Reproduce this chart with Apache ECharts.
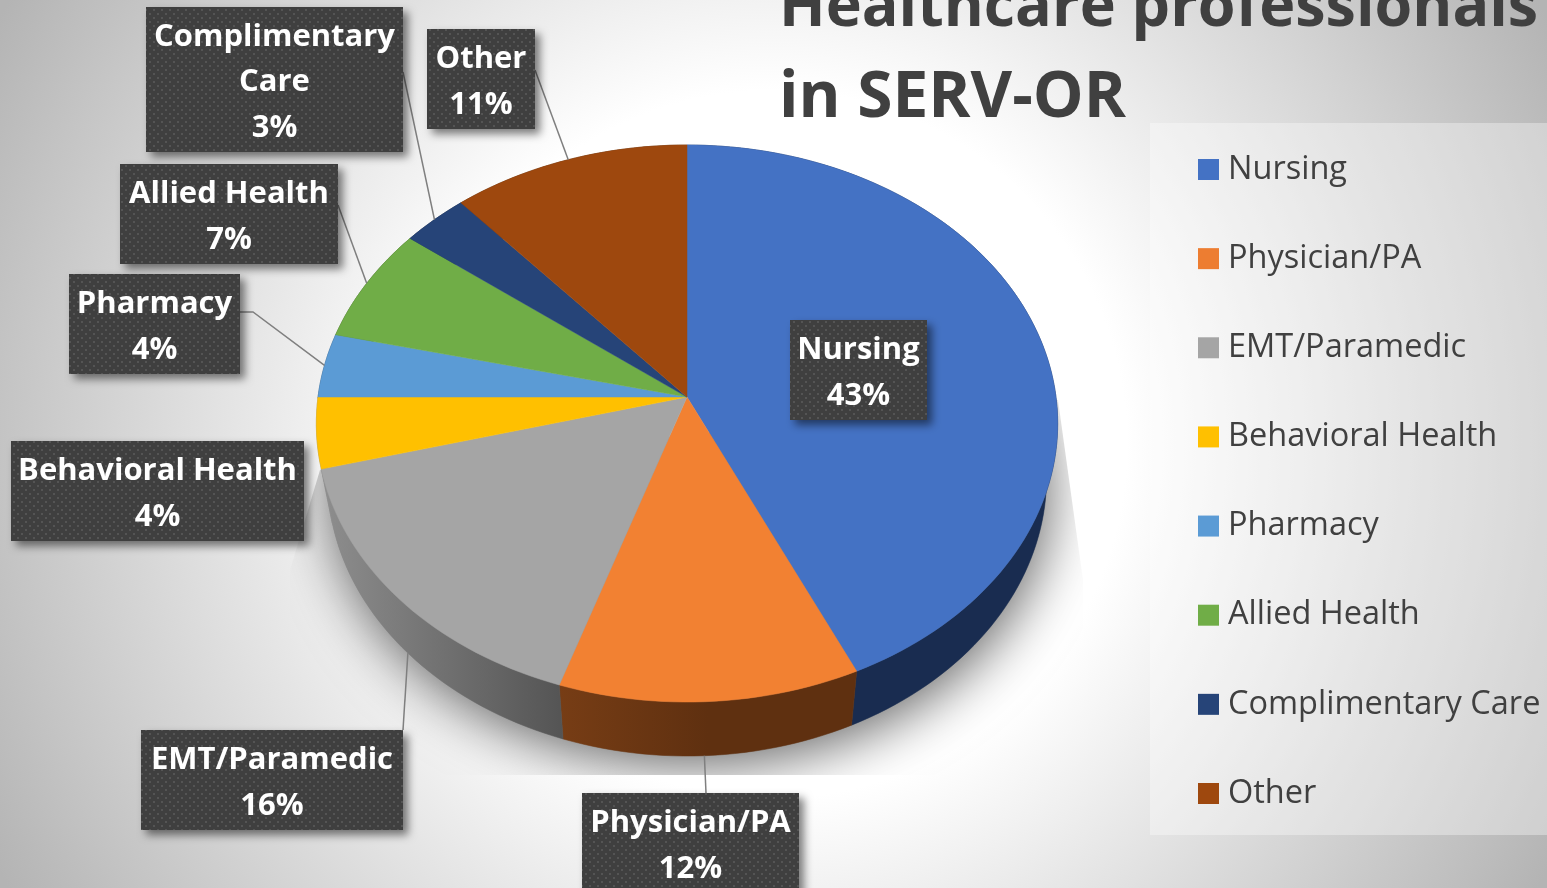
<!DOCTYPE html>
<html>
<head>
<meta charset="utf-8">
<style>
html,body{margin:0;padding:0;width:100%;height:100%;overflow:hidden;background:#fff;}
#main{width:1547px;height:888px;}
</style>
<script src="https://cdn.jsdelivr.net/npm/echarts@6/dist/echarts.min.js"></script>
</head>
<body>
<div id="main"></div>
<script>
/*数据*/
var categories = ["Nursing","Physician/PA","EMT/Paramedic","Behavioral Health","Pharmacy","Allied Health","Complimentary Care","Other"];
var labelNames = ["Nursing","Physician/PA","EMT/Paramedic","Behavioral Health","Pharmacy","Allied Health","Complimentary\nCare","Other"];
var shares = [43.1,12,15.8,4.1,3.7,6.7,3.2,11.4];
var titleLines = ["Healthcare professionals","in SERV-OR"];

/*颜色*/
var legendColors = ["#4472c4","#ed7d31","#a5a5a5","#ffc000","#5b9bd5","#70ad47","#264478","#9e480e"];
var topColors = ["#4472c4","#f28132","#a5a5a5","#ffc000","#5b9bd5","#70ad47","#264478","#9e480e"];
var wallColors = [
    "#192c50",
    {type:"linear",x:0,y:0,x2:1,y2:0,colorStops:[{offset:0,color:"#773d15"},{offset:0.5,color:"#5f3010"},{offset:1,color:"#5f3010"}]},
    {type:"linear",x:0,y:0,x2:1,y2:0,colorStops:[{offset:0,color:"#8e8e8e"},{offset:1,color:"#545454"}]},
    "#8e8e8e","#2e4e6b","#385723","#132239","#4f2407"
];

/*标签框 [x0,y0,x1,y1], 引线起点在框上*/
var labelBoxes = [[790,320,927,420],[582,793,799,893],[141,730,403,830],[11,441,304,541],[69,274,240,374],[120,164,338,264],[146,7,403,152],[427,29,535,129]];
var leaderStarts = [null,[706,793],[403,730],null,[240,312],[338,205],[403,72],[535,70]];
var leaderElbows = [null,null,null,null,[253,312],null,null,null];
var leaderOnWall = [false,true,true,false,false,false,false,false];
var leaderShift = [0,0.002,0,0,0,0,0,0];

/*透视圆盘*/
var cx = 687, cy = 397, rimA = 369, rimB = 276, tilt = 0.0952, depth = 54, lowerScale = 0.97;

function rim(frac, lower) {
    var t = frac * Math.PI * 2;
    var u = Math.sin(t), v = -Math.cos(t);
    var w = 1 - tilt * v;
    var x = rimA * u / w, y = rimB * v / w;
    if (lower) {
        x *= lowerScale;
        y += depth;
    }
    return [cx + x, cy + y];
}

function rimPoints(from, to, lower) {
    var n = Math.max(2, Math.ceil((to - from) * 240));
    var pts = [];
    for (var i = 0; i <= n; i++) {
        pts.push(rim(from + (to - from) * i / n, lower));
    }
    return pts;
}

function dotPattern() {
    var c = document.createElement("canvas");
    c.width = 8; c.height = 8;
    var g = c.getContext("2d");
    g.fillStyle = "#3f3f3f";
    g.fillRect(0,0,8,8);
    g.fillStyle = "#545454";
    g.fillRect(1,1,2,2);
    g.fillRect(5,5,2,2);
    return {image:c, repeat:"repeat"};
}
var boxFill = dotPattern();

var total = shares.reduce(function(a,b){return a+b;},0);

function renderSlice(params, api) {
    var i = params.seriesIndex - 1;
    var start = 0;
    for (var k = 0; k < i; k++) start += shares[k];
    var from = start / total, to = (start + api.value(0)) / total, mid = (from + to) / 2;
    var upper = rimPoints(from, to, false);
    var lower = rimPoints(from, to, true);
    var children = [
        {type:"polygon", z2:1, silent:true, shape:{points:upper.concat(lower.reverse())},
            style:{fill:wallColors[i], stroke:wallColors[i], lineWidth:0.5}},
        {type:"polygon", z2:2, silent:true, shape:{points:[[cx,cy]].concat(upper)},
            style:{fill:topColors[i], stroke:topColors[i], lineWidth:0.5}}
    ];
    var box = labelBoxes[i];
    if (leaderStarts[i]) {
        var line = [leaderStarts[i]];
        if (leaderElbows[i]) line.push(leaderElbows[i]);
        line.push(rim(mid + leaderShift[i], leaderOnWall[i]));
        children.push({type:"polyline", z2:3, silent:true, shape:{points:line},
            style:{fill:null, stroke:"#7f7f7f", lineWidth:1.5}});
    }
    children.push({type:"rect", z2:4, silent:true,
        shape:{x:box[0], y:box[1], width:box[2]-box[0], height:box[3]-box[1]},
        style:{fill:boxFill, shadowBlur:8, shadowOffsetX:5, shadowOffsetY:5, shadowColor:"rgba(0,0,0,0.5)"}});
    children.push({type:"text", z2:5, silent:true,
        style:{x:(box[0]+box[2])/2, y:(box[1]+box[3])/2+3,
            text:labelNames[i]+"\n"+Math.round(api.value(0))+"%",
            align:"center", verticalAlign:"middle", fill:"#fff", lineHeight:45.5,
            font:'bold 31px "Open Sans"'}});
    return {type:"group", children:children};
}

function renderShadow() {
    return {type:"polygon", z2:0, silent:true,
        shape:{points:rimPoints(0,1,true)},
        style:{fill:"#888", shadowBlur:55, shadowOffsetX:3, shadowOffsetY:10, shadowColor:"rgba(0,0,0,0.6)"},
        clipPath:{type:"polygon", shape:{points:[[1058,400],[1083,580],[1083,775],[290,775],[290,570],[320,470]]}}};
}

var seriesList = [{type:"custom", name:"shadow", coordinateSystem:"none", silent:true, renderItem:renderShadow, data:[[0]]}];
categories.forEach(function(name, i){
    seriesList.push({type:"custom", name:name, coordinateSystem:"none", silent:true,
        color:legendColors[i], itemStyle:{color:legendColors[i]},
        renderItem:renderSlice, data:[[shares[i]]]});
});

var myChart = echarts.init(document.getElementById("main"), null, {renderer:"canvas"});
myChart.setOption({
    animation:false,
    backgroundColor:{type:"radial",global:true,x:773,y:444,r:884,
        colorStops:[{offset:0,color:"#ffffff"},{offset:0.4,color:"#ffffff"},{offset:1,color:"#b4b4b4"}]},
    title:{text:"{a|"+titleLines[0]+"}\n{b|"+titleLines[1]+"}",left:774,top:-41,
        textStyle:{rich:{
            a:{fontFamily:"Open Sans",fontWeight:"bold",fontSize:61,color:"#404040",lineHeight:90},
            b:{fontFamily:"Open Sans",fontWeight:"bold",fontSize:64,color:"#404040",lineHeight:90}
        }}},
    legend:{data:categories,orient:"vertical",left:1198,top:153,padding:0,icon:"rect",itemWidth:21,itemHeight:21,itemGap:56.14,
        selectedMode:false,
        textStyle:{fontFamily:"Open Sans",fontSize:32.5,color:"#404040",height:21,lineHeight:21,padding:[0,0,0,4]}},
    graphic:[{type:"rect",silent:true,z:0,shape:{x:1150,y:123,width:397,height:712},style:{fill:"rgba(255,255,255,0.35)"}}],
    tooltip:{show:false},
    series:seriesList
});
</script>
</body>
</html>
